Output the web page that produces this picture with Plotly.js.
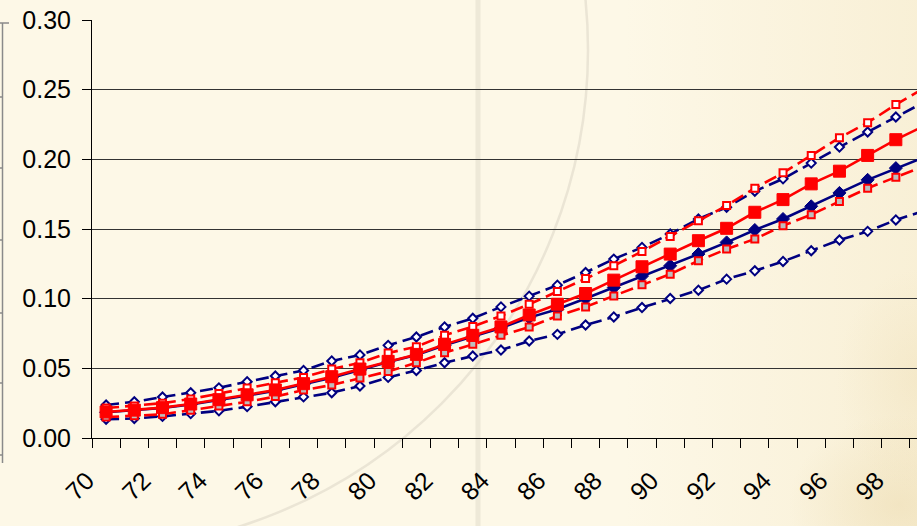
<!DOCTYPE html>
<html>
<head>
<meta charset="utf-8">
<script src="https://cdn.plot.ly/plotly-3.0.1.min.js"></script>
<style>
  html, body { margin: 0; padding: 0; }
  #chart {
    width: 917px; height: 526px;
    background:
      radial-gradient(ellipse 110px 90px at 98% 96%, rgba(225,200,140,0.28), rgba(225,200,140,0) 100%),
      radial-gradient(ellipse 80px 110px at 100% 72%, rgba(228,205,150,0.20), rgba(228,205,150,0) 100%),
      linear-gradient(to right, rgba(240,222,180,0) 68%, rgba(238,220,175,0.30) 100%),
      #FDF8E7;
  }
</style>
</head>
<body>
<div id="chart"></div>
<script>
// Categories (age)
const ages = [70,71,72,73,74,75,76,77,78,79,80,81,82,83,84,85,86,87,88,89,90,91,92,93,94,95,96,97,98,99];
const tickLabels = ['70','72','74','76','78','80','82','84','86','88','90','92','94','96','98'];
const tickAges = [70,72,74,76,78,80,82,84,86,88,90,92,94,96,98];

// Red series
const redCentral = [0.0187,0.0200,0.0218,0.0244,0.0275,0.0310,0.0345,0.0390,0.0440,0.0495,0.0550,0.0600,0.0672,0.0737,0.0797,0.0883,0.0960,0.1037,0.1133,0.1229,0.1320,0.1416,0.1505,0.1620,0.1711,0.1824,0.1915,0.2028,0.2141,0.2240];
const redUpper   = [0.0215,0.0230,0.0250,0.0280,0.0320,0.0358,0.0397,0.0435,0.0495,0.0540,0.0610,0.0655,0.0737,0.0800,0.0876,0.0960,0.1051,0.1145,0.1236,0.1339,0.1447,0.1560,0.1668,0.1793,0.1903,0.2028,0.2155,0.2263,0.2393,0.2510];
const redLower   = [0.0150,0.0160,0.0170,0.0200,0.0230,0.0260,0.0297,0.0344,0.0380,0.0430,0.0478,0.0540,0.0612,0.0672,0.0737,0.0797,0.0876,0.0941,0.1020,0.1099,0.1176,0.1272,0.1356,0.1428,0.1524,0.1603,0.1697,0.1793,0.1872,0.1950];

// Navy series
const navyCentral = [0.0185,0.0198,0.0215,0.0240,0.0270,0.0305,0.0340,0.0385,0.0433,0.0488,0.0545,0.0595,0.0665,0.0728,0.0790,0.0864,0.0924,0.1001,0.1080,0.1162,0.1236,0.1320,0.1404,0.1493,0.1572,0.1663,0.1759,0.1853,0.1937,0.2015];
const navyUpper   = [0.0237,0.0260,0.0294,0.0325,0.0360,0.0404,0.0445,0.0485,0.0553,0.0596,0.0665,0.0725,0.0797,0.0859,0.0941,0.1018,0.1097,0.1188,0.1284,0.1368,0.1464,0.1572,0.1656,0.1771,0.1860,0.1973,0.2088,0.2196,0.2304,0.2410];
const navyLower   = [0.0135,0.0140,0.0155,0.0175,0.0195,0.0225,0.0260,0.0295,0.0325,0.0373,0.0435,0.0485,0.0540,0.0588,0.0631,0.0696,0.0744,0.0811,0.0869,0.0936,0.1001,0.1061,0.1140,0.1200,0.1267,0.1344,0.1421,0.1483,0.1565,0.1630];

const RED = '#FF0000', NAVY = '#000080';
const DASH = '13px,6px';
const LW = 2.6;

const traces = [
  {x: ages, y: navyLower, mode: 'lines+markers', line: {color: NAVY, width: LW, dash: DASH},
   marker: {symbol: 'diamond', size: 7, color: '#FFFFFF', line: {color: NAVY, width: 2}}},
  {x: ages, y: navyUpper, mode: 'lines+markers', line: {color: NAVY, width: LW, dash: DASH},
   marker: {symbol: 'diamond', size: 7, color: '#FFFFFF', line: {color: NAVY, width: 2}}},
  {x: ages, y: navyCentral, mode: 'lines+markers', line: {color: NAVY, width: LW},
   marker: {symbol: 'diamond', size: 10, color: NAVY, line: {color: NAVY, width: 1}}},
  {x: ages, y: redLower, mode: 'lines+markers', line: {color: RED, width: LW, dash: DASH},
   marker: {symbol: 'square', size: 7, color: '#BEBEBE', line: {color: RED, width: 2}}},
  {x: ages, y: redUpper, mode: 'lines+markers', line: {color: RED, width: LW, dash: DASH},
   marker: {symbol: 'square', size: 7, color: '#FFFFFF', line: {color: RED, width: 2}}},
  {x: ages, y: redCentral, mode: 'lines+markers', line: {color: RED, width: LW},
   marker: {symbol: 'square', size: 12, color: RED, line: {color: RED, width: 1}}}
];

// pixel -> paper helpers for the decorative background strokes
const L = 92, T = 20, W = 825, H = 418;
const px = v => (v - L) / W;
const py = v => (T + H - v) / H;

const shapes = [
  // faint circular arc of the background texture
  {type: 'circle', xref: 'paper', yref: 'paper', layer: 'below',
   x0: px(88 - 500), x1: px(88 + 500), y0: py(50 + 500), y1: py(50 - 500),
   line: {color: 'rgba(200,195,180,0.35)', width: 2.5}},
  // faint vertical band
  {type: 'line', xref: 'paper', yref: 'paper', layer: 'below',
   x0: px(478), x1: px(478), y0: py(526), y1: py(0),
   line: {color: 'rgba(215,210,195,0.40)', width: 5}},
  // left frame remnant
  {type: 'line', xref: 'paper', yref: 'paper', layer: 'above',
   x0: px(2.5), x1: px(2.5), y0: py(23), y1: py(463),
   line: {color: '#8a8a8a', width: 1.5}},
  {type: 'line', xref: 'paper', yref: 'paper', layer: 'above',
   x0: px(0), x1: px(9), y0: py(23), y1: py(23),
   line: {color: '#8a8a8a', width: 1.5}}
];
[97, 168, 240, 313, 383, 455].forEach(y => shapes.push({
  type: 'line', xref: 'paper', yref: 'paper', layer: 'above',
  x0: px(0), x1: px(3), y0: py(y), y1: py(y), line: {color: '#8a8a8a', width: 1.5}}));

const FONT = '"Liberation Sans", Arial, sans-serif';

const layout = {
  width: 917, height: 526,
  margin: {l: 92, r: 0, t: 20, b: 88},
  paper_bgcolor: 'rgba(0,0,0,0)',
  plot_bgcolor: 'rgba(0,0,0,0)',
  showlegend: false,
  font: {family: FONT, size: 25, color: '#000'},
  xaxis: {
    range: [69.5, 98.75],
    tickmode: 'array', tickvals: tickAges, ticktext: tickLabels,
    tickangle: -45, ticks: '', ticklabelstandoff: 17, ticklabelshift: -19,
    minor: {tick0: 69.5, dtick: 1, ticks: 'outside', ticklen: 9, tickcolor: '#000', tickwidth: 1, showgrid: false},
    showline: true, linecolor: '#000', linewidth: 1,
    showgrid: false, zeroline: false,
    tickfont: {family: FONT, size: 25, color: '#000'}
  },
  yaxis: {
    range: [0, 0.30], dtick: 0.05, tick0: 0, tickformat: '.2f',
    ticks: 'outside', ticklen: 9, tickcolor: '#000', ticklabelstandoff: 6,
    showline: true, linecolor: '#000', linewidth: 1,
    showgrid: true, gridcolor: '#333', gridwidth: 1, zeroline: false,
    tickfont: {family: FONT, size: 25, color: '#000'}
  },
  shapes: shapes
};

Plotly.newPlot('chart', traces, layout, {displayModeBar: false, staticPlot: true});
</script>
</body>
</html>
